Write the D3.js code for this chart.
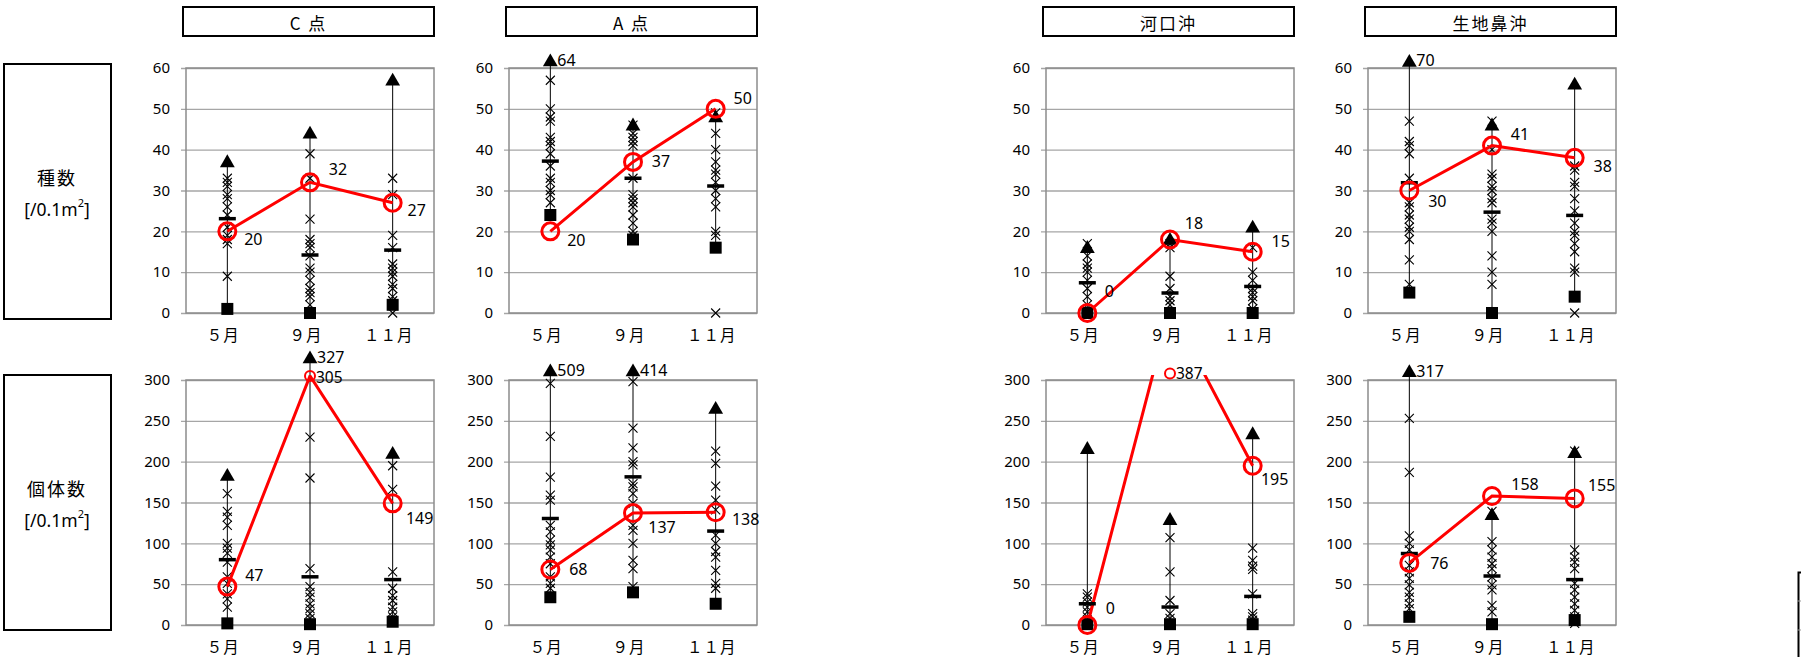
<!DOCTYPE html>
<html><head><meta charset="utf-8">
<script src="https://cdn.jsdelivr.net/npm/d3@7"></script>
<style>body{margin:0;background:#fff}svg{display:block}</style>
</head><body>
<svg id="c" width="1801" height="657"></svg>
<script>
// ---------------- data ----------------
const months = ["５月", "９月", "１１月"];
const stations = ["C 点", "A 点", "河口沖", "生地鼻沖"];
const rowTitles = ["種数", "個体数"];
const spTicks = [0, 10, 20, 30, 40, 50, 60];
const inTicks = [0, 50, 100, 150, 200, 250, 300];

// 種数 (species) — rows: station, cols: month
const spMax = [[37, 44, 57], [61.7, 46, 48], [16, 18, 21], [61.6, 46, 56]];
const spMaxLabel = [[null, null, null], ["64", null, null], [null, null, null], ["70", null, null]];
const spMin = [[1, 0, 2], [24, 18, 16], [0, 0, 0], [5, 0, 4]];
const spMean = [[23.1, 14.2, 15.4], [37.2, 33, 31.1], [7.4, 4.9, 6.5], [31.9, 24.7, 23.9]];
const spSite = [[20, 32, 27], [20, 37, 50], [0, 18, 15], [30, 41, 38]];
const spCross = [
  [[33,32,31,29,28,26,24,21,19,18,17,9],[39,33,23,18,17,16,14,11,10,8,6,5,4,2],[33,29,19,16,12,11,10,9,7,6,4,3,0]],
  [[57,50,48,47,43,42,41,39,36,33,32,30,29,27],[46,44,43,42,41,33,29,28,27,26,24,22,20,19],[49,44,40,37,35,34,32,30,28,26,20,19,0]],
  [[17,14,12,11,10,8,6,4,2],[17,16,9,6,4,3,2],[16,10,8,6,5,4,3,1]],
  [[47,42,41,39,33,27,26,24,23,21,20,18,13,7],[47,40,34,33,31,30,28,27,23,22,20,14,10,7],[36,35,32,31,28,25,22,20,19,17,15,11,10,0]]
];

// 個体数 (individuals)
const inMax = [[183, 327, 210], [311, 311, 265], [216, 129, 234], [310, 135, 211]];
const inMaxLabel = [[null, "327", null], ["509", "414", null], [null, null, null], ["317", null, null]];
const inMin = [[2, 1, 4], [34, 40, 26], [1, 1, 1], [10, 1, 6]];
const inMean = [[80, 59, 55.6], [130.4, 181.4, 115], [26, 22, 35], [87.5, 60, 55.6]];
const inSite = [[47, 305, 149], [68, 137, 138], [0, 387, 195], [76, 158, 155]];
const inCross = [
  [[161,139,132,122,100,94,88,77,59,51,38,32,22],[230,180,69,47,40,34,26,20,14,8,2],[195,166,65,45,36,30,22,16,10,4]],
  [[296,231,181,159,153,122,114,104,98,92,83,75,59,51,45],[298,241,217,200,196,173,169,161,149,122,116,100,79,69,47],[213,198,170,153,141,110,100,90,83,67,51,45]],
  [[38,34,28,22,16,10,5],[107,65,30,14,8],[94,79,72,68,38,14,10,6]],
  [[253,187,109,100,92,73,65,57,49,40,34,26,20],[139,102,92,83,75,69,59,49,43,24,16],[213,92,83,77,69,51,43,34,26,18,10,2]]
];

// ---------------- layout ----------------
const plotLeft = [186, 509, 1046, 1368];
const plotW = 248;
const rows = [
  {top: 68, bottom: 313, max: 60, ticks: spTicks, maxV: spMax, maxL: spMaxLabel, minV: spMin, mean: spMean, site: spSite, cross: spCross, siteCap: 61.5},
  {top: 380, bottom: 625, max: 300, ticks: inTicks, maxV: inMax, maxL: inMaxLabel, minV: inMin, mean: inMean, site: inSite, cross: inCross, siteCap: 308}
];
// label offsets [dx, dy] for site value labels
const labelOff = [
  [[[26,8],[28,-13],[24,7]], [[26,9],[28,-1],[27,-11]], [[22,-22],[24,-17],[28,-11]], [[28,10],[28,-12],[28,8]]],
  [[[27,-12],[23,1],[27,15]], [[28,0],[29,14],[30,7]], [[23,-17],[23,0],[22,13]], [[30,0],[33,-12],[27,-13]]]
];
const leftBoxes = [[64, 319], [375, 630]];

const svg = d3.select("#c");
const CJK = "'Noto Sans CJK JP','Noto Sans',sans-serif";
const NUM = "'Noto Sans','DejaVu Sans',sans-serif";

// station title boxes
stations.forEach((s, i) => {
  const g = svg.append("g");
  g.append("rect").attr("x", plotLeft[i] - 3).attr("y", 7).attr("width", 251).attr("height", 29)
    .attr("fill", "#fff").attr("stroke", "#000").attr("stroke-width", 2);
  g.append("text").attr("x", plotLeft[i] - 3 + 125.5).attr("y", 22).attr("text-anchor", "middle")
    .attr("dominant-baseline", "central").attr("font-family", CJK).attr("font-size", 17)
    .attr("letter-spacing", 2).text(s);
});

// row title boxes
rowTitles.forEach((t, r) => {
  const [y0, y1] = leftBoxes[r];
  svg.append("rect").attr("x", 4).attr("y", y0).attr("width", 107).attr("height", y1 - y0)
    .attr("fill", "#fff").attr("stroke", "#000").attr("stroke-width", 2);
  const cy = (y0 + y1) / 2;
  svg.append("text").attr("x", 57).attr("y", cy - 15).attr("text-anchor", "middle")
    .attr("dominant-baseline", "central").attr("font-family", CJK).attr("font-size", 18)
    .attr("letter-spacing", 2).text(t);
  const u = svg.append("text").attr("x", 57).attr("y", cy + 17).attr("text-anchor", "middle")
    .attr("dominant-baseline", "central").attr("font-family", NUM).attr("font-size", 17.5);
  u.append("tspan").text("[/0.1m");
  u.append("tspan").attr("font-size", 11).attr("dy", -7).text("2");
  u.append("tspan").attr("dy", 7).text("]");
});

// partial box at right edge
svg.append("path").attr("d", "M1801,572.5 H1798.5 V657").attr("fill", "none").attr("stroke", "#000").attr("stroke-width", 2);
[601, 630].forEach(yy => svg.append("line").attr("x1", 1797).attr("x2", 1801).attr("y1", yy).attr("y2", yy)
  .attr("stroke", "#999").attr("stroke-width", 1));

rows.forEach((R, r) => {
  const y = d3.scaleLinear().domain([0, R.max]).range([R.bottom, R.top]);
  stations.forEach((st, i) => {
    const L = plotLeft[i];
    const x = d3.scalePoint().domain(months).range([L, L + plotW]).padding(0.5);
    const g = svg.append("g");

    const ax = g.append("g").attr("transform", `translate(${L},0)`)
      .call(d3.axisLeft(y).tickValues(R.ticks).tickSizeInner(-plotW).tickSizeOuter(0).tickPadding(16));
    ax.select(".domain").remove();
    ax.selectAll(".tick line").attr("x1", -5).attr("stroke", "#a6a6a6").attr("stroke-width", 1.3);
    ax.selectAll(".tick text").attr("font-family", NUM).attr("font-size", 15).attr("fill", "#000");

    g.append("rect").attr("x", L).attr("y", R.top).attr("width", plotW).attr("height", R.bottom - R.top)
      .attr("fill", "none").attr("stroke", "#8c8c8c").attr("stroke-width", 1.5);

    g.selectAll(".xl").data(months).enter().append("text")
      .attr("x", d => x(d) - 4).attr("y", R.bottom + 21).attr("text-anchor", "middle")
      .attr("dominant-baseline", "central").attr("font-family", CJK).attr("font-size", 15.5)
      .attr("letter-spacing", 1).text(d => d);

    months.forEach((m, j) => {
      const cx = x(m);
      g.append("line").attr("x1", cx).attr("x2", cx).attr("y1", y(R.minV[i][j])).attr("y2", y(R.maxV[i][j]))
        .attr("stroke", "#000").attr("stroke-width", 1);
      R.cross[i][j].forEach(v => {
        const yy = y(v), s = 4.5;
        g.append("path").attr("d", `M${cx - s},${yy - s}L${cx + s},${yy + s}M${cx - s},${yy + s}L${cx + s},${yy - s}`)
          .attr("stroke", "#000").attr("stroke-width", 1.1).attr("fill", "none");
      });
    });

    const clipId = `clip${r}_${i}`;
    svg.append("clipPath").attr("id", clipId).append("rect")
      .attr("x", L - 20).attr("y", R.top - 5).attr("width", plotW + 40).attr("height", R.bottom - R.top + 30);
    g.append("path").datum(R.site[i]).attr("clip-path", `url(#${clipId})`)
      .attr("d", d3.line().x((d, j) => x(months[j])).y(d => y(d)))
      .attr("fill", "none").attr("stroke", "#ff0000").attr("stroke-width", 3);

    months.forEach((m, j) => {
      const cx = x(m);
      const ty = y(R.maxV[i][j]);
      g.append("path").attr("d", d3.symbol().type(d3.symbolTriangle).size(95)())
        .attr("transform", `translate(${cx},${ty + 1})`).attr("fill", "#000");
      if (R.maxL[i][j]) {
        g.append("text").attr("x", cx + 7).attr("y", ty - 1).attr("dominant-baseline", "central")
          .attr("font-family", NUM).attr("font-size", 16).text(R.maxL[i][j]);
      }
      const sy = y(R.minV[i][j]);
      g.append("rect").attr("x", cx - 6).attr("y", sy - 6).attr("width", 12).attr("height", 12).attr("fill", "#000");
      const my = y(R.mean[i][j]);
      g.append("rect").attr("x", cx - 8.5).attr("y", my - 1.75).attr("width", 17).attr("height", 3.5).attr("fill", "#000");
      const v = R.site[i][j];
      const over = v > R.max;
      const cy = y(Math.min(v, R.siteCap));
      g.append("circle").attr("cx", cx).attr("cy", cy).attr("r", over ? 5 : 8.5)
        .attr("fill", "none").attr("stroke", "#ff0000").attr("stroke-width", over ? 2 : 3);
      const off = labelOff[r][i][j];
      g.append("text").attr("x", over ? cx + 6 : cx + off[0]).attr("y", cy + off[1])
        .attr("text-anchor", over ? "start" : "middle").attr("dominant-baseline", "central")
        .attr("font-family", NUM).attr("font-size", over ? 15.5 : 16).text(v);
    });
  });
});
</script>
</body></html>
